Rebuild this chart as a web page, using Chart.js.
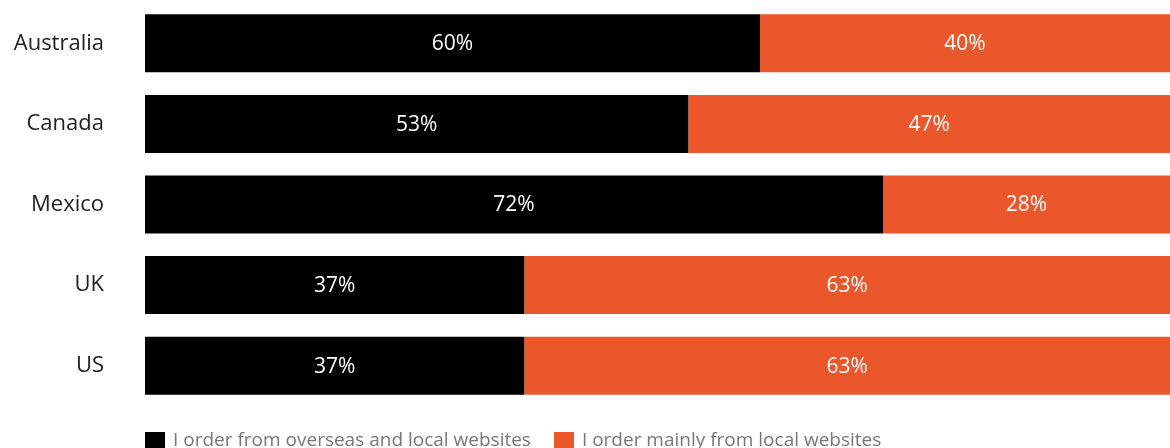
<!DOCTYPE html>
<html>
<head>
<meta charset="utf-8">
<script src="https://cdn.jsdelivr.net/npm/chart.js@4.4.1/dist/chart.umd.min.js"></script>
<style>
  html, body { margin: 0; padding: 0; background: #fff; overflow: hidden; }
  #wrap { position: relative; width: 1170px; height: 448px; }
  #legend {
    position: absolute; left: 145px; top: 429px;
    display: flex; gap: 23px;
    font-family: "Open Sans", sans-serif; font-size: 19px; color: #777;
    line-height: 20px; white-space: nowrap;
  }
  #legend .item { display: flex; align-items: flex-start; gap: 8px; }
  #legend .box { width: 20px; height: 18px; margin-top: 3px; }
</style>
</head>
<body>
<div id="wrap">
  <canvas id="chart" width="1170" height="448"></canvas>
  <div id="legend"></div>
</div>
<script>
// ── Données ─────────────────────────────────────────────────────
const countries = ["Australia", "Canada", "Mexico", "UK", "US"];
const overseasAndLocal = [60, 53, 72, 37, 37];
const mainlyLocal      = [40, 47, 28, 63, 63];
const seriesNames = [
  "I order from overseas and local websites",
  "I order mainly from local websites",
];
const COLORS = ["#000000", "#E9572B"];

// ── Étiquettes de valeur au centre de chaque segment ────────────
const segmentLabels = {
  id: "segmentLabels",
  afterDatasetsDraw(chart) {
    const { ctx } = chart;
    ctx.save();
    ctx.font = "21px 'Open Sans', sans-serif";
    ctx.fillStyle = "#ffffff";
    ctx.textAlign = "center";
    ctx.textBaseline = "middle";
    chart.data.datasets.forEach((ds, i) => {
      chart.getDatasetMeta(i).data.forEach((bar, j) => {
        const { x, base, y } = bar.getProps(["x", "base", "y"], true);
        ctx.fillText(ds.data[j] + "%", (x + base) / 2, y + 1);
      });
    });
    ctx.restore();
  },
};

const chart = new Chart(document.getElementById("chart"), {
  type: "bar",
  data: {
    labels: countries,
    datasets: [
      { label: seriesNames[0], data: overseasAndLocal, backgroundColor: COLORS[0] },
      { label: seriesNames[1], data: mainlyLocal,      backgroundColor: COLORS[1] },
    ],
  },
  options: {
    indexAxis: "y",
    responsive: false,
    animation: false,
    categoryPercentage: 0.8,
    barPercentage: 0.9,
    layout: { padding: { top: 3, bottom: 42, left: 0, right: 0 } },
    plugins: { legend: { display: false }, tooltip: { enabled: false } },
    scales: {
      x: { stacked: true, min: 0, max: 100, display: false },
      y: {
        stacked: true,
        grid: { display: false, drawTicks: false },
        border: { display: false },
        ticks: {
          color: "#222",
          padding: 41,
          font: { family: "'Open Sans', sans-serif", size: 22 },
        },
        // largeur fixe, sans marge verticale ajoutée par le padding des ticks
        afterFit(scale) {
          scale.width = 145;
          scale.paddingTop = 0;
          scale.paddingBottom = 0;
        },
      },
    },
  },
  plugins: [segmentLabels],
});

// ── Légende HTML ────────────────────────────────────────────────
const legend = document.getElementById("legend");
chart.data.datasets.forEach(ds => {
  const item = document.createElement("div");
  item.className = "item";
  item.innerHTML = `<span class="box" style="background:${ds.backgroundColor}"></span><span>${ds.label}</span>`;
  legend.appendChild(item);
});
</script>
</body>
</html>
